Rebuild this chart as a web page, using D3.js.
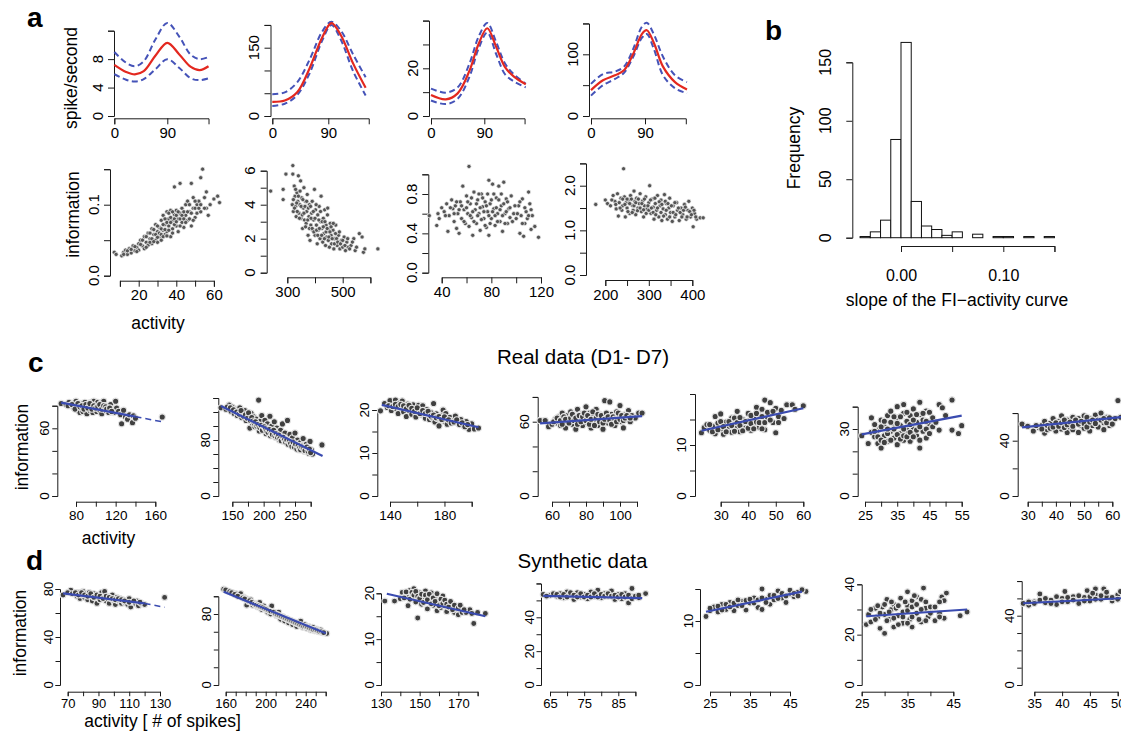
<!DOCTYPE html>
<html><head><meta charset="utf-8">
<script src="https://cdn.jsdelivr.net/npm/d3@7"></script>
<style>body{margin:0;background:#fff}svg{display:block}</style>
</head><body><svg id="fig" width="1121" height="732"></svg>
<script>
// ---------------- DATA ----------------
// Panel a, top row: tuning curves (orientation in degrees -> spike/second)
const tc1Ang = [0,20,35,50,70,90,110,130,145,160];
const tc1Mean = [7.2,6.2,5.85,6.3,8.5,10.3,8.7,6.9,6.45,7.0];
const tc1Up   = [9.0,7.5,7.0,7.7,10.8,13.1,11.2,8.6,8.0,8.3];
const tc1Lo   = [5.9,5.1,4.85,5.2,6.6,8.0,6.8,5.3,5.05,5.3];
const tc2Ang = [0,20,40,60,80,95,110,130,150];
const tc2Mean = [31,34,52,105,172,204,178,115,62];
const tc2Up   = [48,52,74,124,185,207,188,135,85];
const tc2Lo   = [22,27,46,94,165,200,168,98,45];
const tc3Ang = [0,25,45,65,80,95,110,125,140,160];
const tc3Mean = [8.8,7.0,9.5,19,30,36.8,29,20.5,16.5,13.3];
const tc3Up   = [11.5,9.8,12,22,33,39,31,22,17.5,13.5];
const tc3Lo   = [6.5,5,7.2,16.5,28,35,26,17.5,14.5,12];
const tc4Ang = [0,20,40,55,70,85,93,105,120,140,160];
const tc4Mean = [42,58,66,74,100,133,139,118,80,55,43];
const tc4Up   = [52,68,72,80,108,145,151,132,96,66,55];
const tc4Lo   = [33,50,60,70,95,127,133,108,66,45,37];

// Panel a, bottom row: information vs activity
const a5Pts = [[7,0.033],[8,0.03],[11,0.028],[12,0.033],[13,0.036],[14,0.03],[15,0.038],[16,0.032],[17,0.042],[18,0.035],[19,0.04],[20,0.045],[20,0.036],[21,0.05],[22,0.042],[23,0.055],[23,0.038],[24,0.047],[25,0.06],[25,0.043],[26,0.052],[27,0.066],[27,0.045],[28,0.058],[29,0.05],[29,0.072],[30,0.062],[30,0.047],[31,0.068],[31,0.055],[32,0.078],[32,0.05],[33,0.064],[33,0.085],[34,0.058],[34,0.072],[35,0.09],[35,0.062],[36,0.07],[36,0.08],[37,0.055],[37,0.092],[38,0.066],[38,0.078],[39,0.086],[39,0.125],[40,0.07],[40,0.092],[41,0.062],[41,0.08],[42,0.13],[42,0.088],[43,0.075],[43,0.095],[44,0.068],[45,0.085],[45,0.1],[46,0.078],[46,0.105],[47,0.09],[48,0.13],[48,0.07],[49,0.095],[49,0.11],[50,0.082],[51,0.1],[51,0.088],[52,0.105],[53,0.138],[53,0.09],[54,0.15],[55,0.11],[56,0.118],[56,0.095],[57,0.085],[58,0.1],[60,0.108],[62,0.112],[63,0.103],
  [12,0.03],[14,0.035],[16,0.037],[18,0.041],[19,0.034],[21,0.044],[22,0.05],[24,0.04],[24,0.055],[26,0.047],[26,0.06],[27,0.052],[28,0.065],[28,0.048],[29,0.058],[30,0.07],[30,0.054],[31,0.06],[32,0.066],[32,0.058],[33,0.072],[33,0.055],[34,0.08],[34,0.065],[35,0.075],[35,0.056],[36,0.088],[36,0.064],[37,0.075],[37,0.082],[38,0.09],[38,0.06],[39,0.072],[39,0.08],[40,0.085],[40,0.076],[41,0.09],[42,0.07],[42,0.08],[43,0.085],[44,0.09],[44,0.08],[45,0.075],[46,0.09],[47,0.08],[47,0.1],[48,0.088],[49,0.078],[50,0.095],[50,0.105],[52,0.095],[53,0.1],[55,0.095]];
const a6Pts = [[240,4.8],[285,4.3],[285,4.9],[295,5.8],[320,6.3],[320,5.8],[318,4.0],[322,3.6],[325,5.1],[328,4.5],[330,3.9],[332,3.3],[335,4.7],[338,4.2],[340,5.7],[342,3.5],[345,4.0],[348,5.4],[350,3.2],[352,4.4],[355,2.6],[358,3.8],[360,5.0],[362,3.1],[365,4.2],[368,2.9],[370,3.6],[372,4.6],[375,2.2],[378,3.3],[380,4.0],[382,1.9],[385,2.8],[388,3.5],[390,4.2],[392,2.5],[395,3.1],[398,4.9],[400,2.2],[402,3.7],[405,2.8],[408,1.7],[410,3.4],[412,2.5],[415,3.9],[418,2.0],[420,3.0],[422,4.5],[425,2.6],[428,1.8],[430,3.2],[432,2.3],[435,3.7],[438,1.6],[440,2.8],[442,2.1],[445,3.4],[448,1.9],[450,2.6],[452,1.5],[455,2.9],[458,2.2],[460,1.7],[465,2.5],[468,1.4],[470,2.0],[475,2.8],[480,1.6],[485,2.2],[490,1.4],[495,1.9],[500,1.5],[505,2.1],[510,1.3],[515,1.8],[520,1.5],[530,1.6],[540,2.0],[545,1.3],[550,1.5],[560,2.3],[570,2.1],[575,1.2],[580,1.4],[627,1.4],
  [322,4.3],[326,3.8],[330,4.9],[334,4.1],[336,3.6],[340,4.5],[344,3.2],[346,4.8],[350,3.9],[354,3.4],[356,4.3],[360,3.5],[364,3.9],[366,2.7],[370,4.2],[374,3.1],[376,3.8],[380,2.6],[384,3.9],[386,3.2],[390,2.6],[394,3.6],[396,2.4],[400,3.2],[404,4.0],[406,2.5],[410,2.2],[414,3.1],[416,2.6],[420,3.6],[424,2.2],[426,3.0],[430,2.7],[434,2.0],[436,3.0],[440,2.4],[444,2.6],[446,3.8],[450,2.1],[454,2.4],[458,2.7],[462,2.0],[466,2.9],[470,1.7],[474,2.3],[478,2.0],[482,1.8],[488,2.4],[492,1.7],[500,1.9],[508,1.6],[518,2.0],[525,1.4],[535,1.8]];
const a7Pts = [[30,0.58],[36,0.48],[37,0.6],[38,0.55],[40,0.66],[42,0.62],[44,0.7],[45,0.42],[46,0.58],[48,0.74],[49,0.65],[50,0.52],[51,0.68],[52,0.45],[53,0.6],[54,0.4],[55,0.72],[56,0.55],[57,0.88],[58,0.64],[59,0.5],[60,0.78],[61,0.6],[62,1.08],[62,0.47],[63,0.7],[64,0.56],[65,0.38],[66,0.82],[67,0.64],[68,0.5],[69,0.74],[70,0.6],[71,0.43],[72,0.8],[73,0.67],[74,0.55],[75,0.72],[76,0.46],[77,0.62],[78,0.94],[78,0.38],[79,0.7],[80,0.55],[81,0.9],[82,0.65],[83,0.48],[84,0.76],[85,0.6],[86,0.88],[87,0.52],[88,0.68],[89,0.42],[90,0.92],[91,0.6],[92,0.75],[93,0.5],[94,0.65],[95,0.56],[96,0.78],[98,0.6],[100,0.55],[102,0.68],[103,0.4],[104,0.58],[105,0.75],[106,0.37],[107,0.5],[108,0.62],[109,0.55],[110,0.82],[111,0.7],[112,0.44],[113,0.58],[115,0.47],[118,0.36],
  [43,0.58],[47,0.66],[50,0.6],[52,0.72],[54,0.64],[56,0.68],[58,0.52],[60,0.66],[61,0.72],[63,0.58],[64,0.76],[65,0.62],[66,0.52],[68,0.7],[69,0.58],[70,0.8],[71,0.66],[72,0.54],[73,0.76],[74,0.62],[75,0.48],[76,0.68],[77,0.8],[78,0.58],[79,0.5],[80,0.74],[81,0.62],[82,0.8],[83,0.58],[84,0.66],[85,0.52],[86,0.74],[87,0.64],[88,0.8],[89,0.58],[90,0.7],[91,0.5],[92,0.62],[93,0.72],[95,0.66],[97,0.52],[99,0.68],[101,0.6],[103,0.72],[105,0.5],[107,0.66],[110,0.58],[112,0.64]];
const a8Pts = [[178,1.58],[200,1.68],[205,1.6],[212,1.55],[218,1.78],[222,1.65],[225,1.48],[228,1.82],[230,1.32],[232,1.62],[236,1.72],[238,1.45],[240,1.55],[242,2.38],[244,1.75],[246,1.3],[248,1.62],[250,1.5],[254,1.68],[256,1.38],[258,1.78],[262,1.56],[264,1.45],[266,1.88],[268,1.65],[270,1.35],[272,1.72],[275,1.5],[278,1.6],[280,1.82],[283,1.42],[286,1.66],[288,1.3],[290,1.55],[293,1.75],[296,1.48],[300,1.62],[302,2.0],[305,1.38],[308,1.7],[310,1.52],[312,1.25],[315,1.6],[318,1.45],[320,1.78],[323,1.3],[326,1.55],[328,1.68],[330,1.22],[333,1.48],[336,1.8],[338,1.35],[340,1.6],[343,1.25],[346,1.5],[348,1.72],[350,1.4],[354,1.2],[356,1.55],[360,1.3],[364,1.62],[366,1.45],[370,1.22],[374,1.5],[378,1.35],[382,1.58],[386,1.25],[390,1.45],[392,1.65],[396,1.3],[400,1.5],[402,1.08],[405,1.38],[410,1.25],[418,1.28],[425,1.28],
  [215,1.68],[224,1.58],[234,1.5],[240,1.7],[245,1.58],[250,1.7],[252,1.42],[256,1.6],[260,1.7],[262,1.4],[266,1.55],[270,1.62],[274,1.44],[276,1.7],[280,1.5],[284,1.6],[288,1.46],[290,1.7],[294,1.38],[298,1.55],[300,1.45],[304,1.68],[306,1.5],[310,1.4],[314,1.72],[316,1.35],[320,1.5],[324,1.64],[328,1.4],[330,1.58],[334,1.32],[338,1.65],[340,1.45],[344,1.6],[348,1.3],[352,1.55],[356,1.4],[360,1.62],[362,1.35],[368,1.5],[372,1.4],[376,1.3],[380,1.45],[384,1.52],[388,1.3],[394,1.42],[398,1.35],[404,1.45],[408,1.3]];

// Panel b: histogram of slopes
const histEdges = [-0.04,-0.03,-0.02,-0.01,0,0.01,0.02,0.03,0.04,0.05,0.06,0.07,0.08,0.09,0.10,0.11,0.12,0.13,0.14,0.15];
const histCounts = [1,5,15,84,167,31,10,7,2,5,0,3,0,1,1,0,1,0,1];

// Panel c: real data D1-D7
const c1Pts = [[65,82],[70,81],[73,83],[75,80],[77,82],[78,78],[80,84],[81,79],[82,76],[83,81],[84,74],[85,82],[86,78],[87,75],[88,80],[89,83],[90,77],[91,73],[92,81],[93,79],[94,76],[95,83],[96,80],[97,74],[98,84],[99,78],[100,81],[101,75],[102,83],[103,79],[104,76],[105,82],[106,73],[107,78],[108,84],[109,80],[110,76],[112,79],[113,74],[115,81],[117,77],[118,74],[120,84],[121,78],[123,75],[125,72],[126,64],[128,76],[130,70],[132,68],[134,72],[137,65],[138,71],[140,69],[167,70],
  [72,80],[76,81],[79,77],[82,82],[84,79],[86,80],[88,77],[90,81],[92,78],[94,82],[96,77],[98,80],[100,78],[102,79],[104,81],[106,77],[108,80],[110,79],[111,77],[114,78],[116,75]];
const c2Pts = [[132,126],[140,124],[145,130],[148,121],[150,127],[153,118],[155,124],[158,115],[160,121],[162,126],[165,112],[167,119],[170,122],[172,108],[175,116],[177,111],[178,97],[180,118],[182,104],[184,113],[186,99],[188,110],[190,105],[192,137],[193,93],[195,107],[197,115],[199,100],[200,95],[202,108],[204,89],[206,103],[208,96],[210,114],[211,86],[213,100],[215,92],[217,106],[219,84],[221,97],[223,90],[225,80],[227,94],[229,85],[230,103],[232,78],[234,90],[236,82],[238,108],[240,76],[242,88],[244,72],[246,83],[248,75],[250,90],[252,70],[254,80],[256,66],[258,76],[260,72],[263,82],[265,64],[268,74],[270,68],[272,61],[274,78],[276,66],[278,60],[293,73],
  [142,127],[147,126],[152,123],[157,120],[161,117],[164,122],[168,114],[171,116],[174,111],[176,119],[179,108],[181,112],[183,107],[185,104],[187,106],[189,100],[191,102],[194,98],[196,101],[198,94],[201,99],[203,96],[205,93],[207,91],[209,95],[212,90],[214,88],[216,94],[218,86],[220,89],[222,84],[224,87],[226,82],[228,79],[231,84],[233,80],[235,77],[237,80],[239,74],[241,78],[243,75],[245,71],[247,77],[249,70],[251,74],[253,67],[255,72],[257,68],[259,66],[261,70],[264,68],[266,65],[269,70],[271,64],[273,67],[275,62]];
const c3Pts = [[133,19.8],[136,21.5],[138,20.6],[140,22.2],[141,19.9],[143,21.0],[144,22.3],[145,20.2],[146,19.2],[147,21.6],[148,20.5],[149,22.1],[150,19.6],[151,20.9],[152,18.5],[153,21.4],[154,19.9],[155,20.6],[156,19.0],[157,21.2],[158,20.1],[159,18.4],[160,19.6],[161,21.1],[162,20.3],[163,18.9],[164,21.0],[165,19.6],[166,18.1],[167,20.1],[168,19.0],[169,17.8],[170,19.4],[171,18.2],[172,21.5],[173,17.2],[174,19.1],[175,18.0],[176,16.3],[178,18.7],[179,20.0],[180,17.4],[181,19.2],[182,16.7],[184,18.3],[186,17.5],[188,18.6],[190,16.9],[192,17.8],[194,16.4],[196,17.3],[198,15.5],[200,16.8],[202,15.6],[205,15.8],
  [139,21.0],[142,20.8],[144,21.3],[146,20.8],[148,21.3],[150,21.0],[152,20.3],[154,21.1],[156,20.4],[158,19.7],[160,20.5],[162,19.2],[164,19.9],[166,19.2],[168,19.7],[170,18.6],[172,18.8],[174,18.2],[176,18.5],[178,17.8],[180,18.4],[183,17.7],[185,17.0],[187,17.2],[189,17.7],[191,16.6],[193,17.0],[195,16.1],[197,16.6]];
const c4Pts = [[53,61],[56,61],[58,56],[60,58],[62,62],[63,59],[64,64],[65,57],[66,67],[67,60],[68,55],[69,65],[70,62],[71,68],[72,58],[73,64],[74,54],[75,70],[76,61],[77,66],[78,57],[79,63],[80,72],[81,59],[82,67],[83,55],[84,64],[85,61],[86,70],[87,57],[88,66],[89,62],[90,54],[91,77],[92,63],[93,59],[94,76],[95,66],[96,61],[97,57],[98,68],[99,64],[100,73],[101,60],[102,55],[103,66],[104,62],[105,69],[106,60],[107,65],[109,63],[111,67],[113,67],
  [61,60],[63,63],[65,61],[66,58],[67,64],[68,62],[70,59],[71,63],[72,66],[73,61],[74,63],[75,58],[76,65],[77,60],[78,64],[79,67],[80,61],[81,65],[82,58],[83,62],[84,68],[85,57],[86,63],[87,66],[88,60],[89,65],[90,59],[91,62],[92,67],[93,64],[94,61],[95,58],[96,64],[97,62],[98,60],[99,67],[100,62],[101,65],[102,61],[103,63],[104,65],[106,63]];
const c5Pts = [[23,12.4],[24,13.4],[25,14.0],[26,12.9],[27,13.7],[28,15.6],[28,12.2],[29,14.3],[30,13.0],[30,16.1],[31,12.1],[32,14.5],[33,13.2],[34,15.3],[34,12.5],[35,14.0],[36,16.6],[36,13.4],[37,12.6],[38,15.0],[38,14.1],[39,13.3],[40,16.2],[40,14.7],[41,12.9],[42,15.5],[42,14.2],[43,17.4],[44,13.5],[44,15.9],[45,14.6],[45,17.0],[46,18.8],[46,13.0],[47,15.4],[48,16.3],[48,18.3],[49,14.4],[50,17.2],[50,12.4],[51,15.6],[52,16.8],[53,15.2],[54,17.9],[56,17.9],[57,17.0],[60,17.7],
  [26,14.0],[27,12.6],[29,13.0],[30,14.6],[31,13.6],[32,12.6],[33,14.6],[34,13.8],[35,12.7],[35,15.3],[36,14.4],[37,13.8],[37,15.4],[38,12.8],[39,14.6],[40,13.3],[41,14.2],[41,15.8],[42,13.2],[43,14.5],[43,16.2],[44,14.4],[45,13.2],[45,15.6],[46,14.4],[47,16.4],[48,14.9],[49,16.6],[51,14.4]];
const c6Pts = [[24,27],[26,23.5],[27,28.5],[27,35],[28,26.5],[28,32],[29,23.5],[29,29.5],[30,21.5],[30,34],[31,27],[31,31],[32,24.5],[32,36],[33,29],[33,38],[34,26],[34,32.5],[35,23],[35,35],[35,40],[36,28],[36,31.5],[37,25],[37,37],[37,41],[38,29.5],[38,33.5],[39,24.5],[39,36],[40,30],[40,39],[41,27],[41,33],[42,21.5],[42,36.5],[42,42],[43,29],[43,34],[44,26],[44,38],[45,31.5],[45,37.5],[46,35],[48,29.5],[48,41],[49,39.5],[50,36],[52,29.5],[52,43],[54,28],[55,31.5],
  [28,29],[29,26.5],[30,31],[30,25],[31,33.5],[31,24],[32,28],[32,30],[33,25],[33,33],[34,35.5],[34,30],[35,27.5],[35,32.5],[36,25.5],[36,35.5],[37,30],[37,27],[38,37.5],[38,26.5],[39,32],[39,28.5],[40,34],[40,26.5],[41,29.5],[41,36.5],[42,31],[42,25],[43,37],[44,30],[44,33.5],[45,28],[46,31],[47,33]];
const c7Pts = [[28,52],[30,50.5],[32,47],[34,49.5],[35,51],[36,45.5],[36,54],[37,48],[38,52.5],[39,56],[40,47],[40,51],[41,54],[42,48.5],[42,58],[43,52],[44,46],[44,55],[45,50],[46,57],[46,48],[47,53],[48,46],[48,56],[49,51],[50,58],[50,49],[51,54],[52,47],[52,56],[53,51],[54,58.5],[55,50],[55,55],[56,60],[57,53],[57,48],[58,57],[59,51],[60,55],[61,56],[62,69],[63,57],
  [33,51],[35,48.5],[37,51],[38,49],[39,50],[40,53],[41,50.5],[42,53],[43,49.5],[43,55],[44,51.5],[45,53.5],[46,50.5],[47,55],[48,52],[49,54],[50,52.5],[51,50],[51,57],[52,53.5],[53,55],[54,52.5],[56,55],[57,56],[58,53],[59,56.5],[60,52]];
// fitted lines (solid part, dashed extrapolation)
const c1Fit = [[65,82.7],[140,70.3]], c1Ext = [[140,70.3],[167,65.8]];
const c2Fit = [[132,128.6],[294,57]];
const c3Fit = [[134,21.2],[205,16.0]];
const c4Fit = [[53,58.6],[113,64.5]];
const c5Fit = [[23,12.8],[60,17.2]];
const c6Fit = [[24,27.6],[55,36]];
const c7Fit = [[28,49.6],[64,57.2]];

// Panel d: synthetic data
const d1Pts = [[67,75],[72,79],[74,76],[76,74],[77,77],[78,72],[79,75],[80,78],[81,73],[82,76],[83,71],[84,77],[85,74],[86,70],[87,76],[88,73],[89,68],[90,75],[91,71],[92,77],[93,73],[94,78],[95,70],[96,74],[97,68],[98,72],[99,75],[100,70],[101,67],[102,73],[103,70],[104,72],[105,68],[106,71],[107,69],[108,70],[109,67],[110,72],[111,65],[112,69],[114,68],[115,70],[116,66],[118,68],[120,67],[133,73],
  [70,77],[73,76],[75,77],[77,75],[79,77],[81,75],[83,74],[85,76],[87,73],[89,75],[91,74],[93,72],[95,74],[97,73],[99,72],[101,71],[103,72],[105,71],[107,70],[110,69],[113,70],[117,69]];
const d2Pts = [[158,108],[162,106],[167,104],[170,103],[173,101],[175,103],[178,99],[181,90],[181,97],[183,94],[185,96],[187,90],[190,92],[192,88],[194,93],[196,85],[198,89],[200,86],[202,82],[204,84],[205,80],[206,89],[209,81],[211,78],[213,82],[215,74],[217,77],[219,72],[221,75],[223,70],[225,73],[227,68],[229,71],[231,66],[233,69],[235,72],[237,65],[239,68],[241,64],[243,66],[245,62],[247,65],[249,61],[251,63],[253,60],[255,62],[257,59],[261,58],
  [160,107],[164,105],[166,104],[169,102],[172,100],[177,98],[179,97],[184,95],[186,93],[189,91],[191,90],[193,89],[195,88],[197,87],[199,86],[201,85],[203,84],[205,83],[208,82],[210,80],[212,79],[214,78],[216,77],[218,76],[220,75],[222,74],[224,73],[226,72],[228,71],[230,70],[232,69],[234,68],[236,67],[238,66],[240,66],[242,65],[244,64],[246,63],[248,62],[250,62],[252,61],[254,60],[256,60],[258,59]];
const d3Pts = [[132,18.3],[137,18.3],[140,18.8],[141,20.2],[143,19.5],[144,17.3],[145,20.6],[146,19.0],[147,21.0],[148,18.1],[149,14.6],[150,20.1],[151,17.6],[152,19.2],[153,20.5],[154,16.6],[155,18.6],[156,20.1],[157,17.4],[158,19.3],[159,16.2],[160,18.1],[161,16.9],[162,19.4],[163,17.3],[164,16.0],[165,18.0],[166,16.8],[167,17.7],[168,15.8],[169,16.6],[170,15.3],[172,15.8],[174,15.8],[176,16.4],[177,15.6],[178,13.4],[180,15.8],[184,15.6],
  [142,19.0],[143,20.3],[145,18.7],[146,20.2],[147,19.6],[148,20.4],[149,19.3],[150,18.9],[151,19.8],[152,18.0],[153,19.6],[154,18.6],[155,19.8],[156,17.7],[157,19.0],[158,18.2],[159,19.9],[160,17.3],[161,18.7],[162,17.8],[163,18.5],[164,17.6],[165,17.0],[166,18.2],[167,16.4],[168,17.4],[170,16.8],[171,17.4],[173,16.4]];
const d4Pts = [[63,53.5],[65,53],[67,52.5],[68,54],[69,51.5],[70,55],[71,53],[72,50.5],[73,54.5],[74,52],[75,53.5],[76,51],[77,55],[78,52.5],[79,56],[80,51.5],[81,54],[82,52.5],[83,55.5],[84,50.5],[85,53.5],[86,51],[87,54],[88,48.5],[89,52.5],[89,57],[91,51.5],[93,54],
  [64,52.5],[66,54],[67,53.5],[68,52],[69,53.5],[70,52],[71,54.5],[72,53],[73,52],[74,54],[75,52],[76,53],[77,52],[78,54],[79,52],[80,53.5],[81,52.5],[82,54],[83,52.5],[84,53],[85,52],[86,53.5],[87,52],[88,53],[89,51],[90,52.5],[91,53]];
const d5Pts = [[24,10.7],[25,11.6],[26,12.2],[27,11.4],[28,12.6],[29,11.8],[30,12.9],[31,11.6],[32,12.4],[33,13.1],[34,11.7],[35,12.8],[36,13.6],[37,12.1],[38,11.8],[38,15.0],[39,13.4],[40,12.6],[41,13.3],[42,14.7],[43,13.6],[44,12.9],[45,14.2],[46,13.8],[47,14.5],[49,14.6],
  [25,12.0],[27,12.3],[28,11.7],[29,12.6],[30,12.2],[31,12.8],[32,13.3],[33,12.4],[34,13.2],[35,13.4],[36,12.8],[37,13.3],[38,13.6],[39,12.9],[40,14.0],[41,14.0],[42,13.5],[43,14.3],[44,13.9],[45,14.8],[46,14.3],[47,13.9],[48,14.9]];
const d6Pts = [[26,24],[26.5,28],[27,25],[28,30.5],[28.5,27],[29,22.5],[29.5,31],[30,20.5],[30,28],[30.5,34],[31,26],[31.5,30],[32,23],[32,32],[33,27.5],[33.5,34.5],[34,24.5],[34,29],[35,31.5],[35,37],[35.5,26],[36,23],[36,33.5],[37,28.5],[37,35],[38,25],[38.5,38.5],[39,30.5],[39.5,27],[40,31],[41,25.5],[42,28.5],[42.5,35],[43,33.5],[43.5,36.5],[43,26.5],[46.5,27.5],[48,29],
  [27,30],[28,26],[28.5,31.5],[29,28.5],[30,32],[30.5,25.5],[31,29],[31.5,33],[32,26.5],[32.5,30.5],[33,24],[33,31.5],[34,27],[34.5,33],[35,24.5],[35,29.5],[36,31],[36,27],[36.5,35.5],[37,32],[37.5,26],[38,30],[38,34],[39,25.5],[39,33],[40,28.5],[41,31],[42,27],[42,33]];
const d7Pts = [[33,47],[34,46],[35,48],[36,52.5],[37,47.5],[38,49],[39,46.5],[40,50],[40.5,54],[41,48],[42,51],[43,47],[44,50.5],[44.5,54.5],[45,48.5],[46,52],[46,55.5],[47,49.5],[47.5,55.5],[48,51],[49,48.5],[50,52],[51,50.5],
  [34,48],[35,47],[36,49],[37,50],[38,47],[39,51],[40,48],[41,50.5],[42,49],[43,51.5],[44,48.5],[45,51],[45.5,53],[46,49.5],[47,51.5],[48,53.5],[49,50.5],[50,49.5],[50.5,54]];
const d1Fit = [[67,76.4],[120,68]], d1Ext = [[120,68],[133,64.7]];
const d2Fit = [[158,105],[260,58.2]];
const d3Fit = [[133,19.9],[184,15.0]];
const d4Fit = [[63,52.7],[92,51.3]];
const d5Fit = [[24,11.45],[48,14.6]];
const d6Fit = [[26,27.3],[48,30]];
const d7Fit = [[33,47.2],[52,50.3]];

// Tick values / labelled ticks per panel
const tA1 = {x:[0,90], xEnd:160, xLab:[0,90], y:[0,4,8,12], yLab:[0,4,8]};
const tA2 = {x:[0,90], xEnd:155, xLab:[0,90], y:[0,50,100,150,200], yLab:[0,150]};
const tA3 = {x:[0,90], xEnd:158, xLab:[0,90], y:[0,10,20,30,40], yLab:[0,20]};
const tA4 = {x:[0,90], xEnd:158, xLab:[0,90], y:[0,50,100,150], yLab:[0,100]};
const tA5 = {x:[10,20,30,40,50,60], xLab:[20,40,60], y:[0,0.05,0.1,0.15], yLab:[0,0.1], yFmt:'.1f'};
const tA6 = {x:[300,400,500,600], xLab:[300,500], y:[0,1,2,3,4,5,6], yLab:[0,2,4,6]};
const tA7 = {x:[40,60,80,100,120], xLab:[40,80,120], y:[0,0.2,0.4,0.6,0.8,1.0], yLab:[0,0.4,0.8], yFmt:'.1f'};
const tA8 = {x:[200,250,300,350,400], xLab:[200,300,400], y:[0,0.5,1,1.5,2,2.5], yLab:[0,1,2], yFmt:'.1f'};
const tB  = {x:[0,0.05,0.1,0.15], xLab:[0,0.1], xFmt:'.2f', y:[0,50,100,150], yLab:[0,50,100,150]};
const tC1 = {x:[80,100,120,140,160], xLab:[80,120,160], y:[0,20,40,60,80], yLab:[0,60]};
const tC2 = {x:[150,175,200,225,250,275], xLab:[150,200,250], y:[0,20,40,60,80,100,120,140], yLab:[0,80]};
const tC3 = {x:[140,160,180,200], xLab:[140,180], y:[0,5,10,15,20], yLab:[0,10,20]};
const tC4 = {x:[60,70,80,90,100,110], xLab:[60,80,100], y:[0,20,40,60,80], yLab:[0,60]};
const tC5 = {x:[30,40,50,60], xLab:[30,40,50,60], y:[0,5,10,15,20], yLab:[0,10]};
const tC6 = {x:[25,30,35,40,45,50,55], xLab:[25,35,45,55], y:[0,10,20,30,40], yLab:[0,30]};
const tC7 = {x:[30,35,40,45,50,55,60], xLab:[30,40,50,60], y:[0,20,40,60], yLab:[0,40]};
const tD1 = {x:[70,80,90,100,110,120,130], xLab:[70,90,110,130], y:[0,20,40,60,80], yLab:[0,40,80]};
const tD2 = {x:[160,170,180,190,200,210,220,230,240,250,260], xLab:[160,200,240], y:[0,20,40,60,80,100], yLab:[0,80]};
const tD3 = {x:[130,140,150,160,170,180], xLab:[130,150,170], y:[0,5,10,15,20], yLab:[0,10,20]};
const tD4 = {x:[65,70,75,80,85,90], xLab:[65,75,85], y:[0,10,20,30,40,50,60], yLab:[0,20,40]};
const tD5 = {x:[25,30,35,40,45], xLab:[25,35,45], y:[0,5,10,15], yLab:[0,10]};
const tD6 = {x:[25,30,35,40,45], xLab:[25,35,45], y:[0,10,20,30,40], yLab:[0,20,40]};
const tD7 = {x:[35,40,45,50], xLab:[35,40,45,50], y:[0,10,20,30,40,50,60], yLab:[0,40]};

// ---------------- DRAWING ----------------
const FONT = '"Liberation Sans", Arial, Helvetica, sans-serif';
const svg = d3.select('#fig');
const RED = '#e3281f', BLUE = '#4553b8', FIT = '#3a4bb0';
const has = (arr, v) => arr.some(a => Math.abs(a - v) < 1e-9);

function txt(x, y, s, fs, opt = {}) {
  return svg.append('text').attr('x', x).attr('y', y).attr('font-family', FONT)
    .attr('font-size', fs).attr('font-weight', opt.bold ? 'bold' : 'normal')
    .attr('text-anchor', opt.anchor || 'middle').attr('fill', '#000').text(s);
}
function vtext(g, cx, cy, s, fs) {
  g.append('text').attr('transform', `translate(${cx},${cy}) rotate(-90)`)
    .attr('text-anchor', 'middle').attr('dy', '0.35em').attr('font-family', FONT)
    .attr('font-size', fs).attr('fill', '#000').text(s);
}
function styleAxis(sel, fs) {
  sel.attr('font-family', FONT).attr('font-size', fs).attr('color', '#1a1a1a');
  sel.selectAll('path,line').attr('stroke', '#1a1a1a').attr('stroke-width', 1);
  sel.selectAll('text').attr('fill', '#000');
}
function panel(cfg) {
  const sx = d3.scaleLinear().domain([cfg.sx[0], cfg.sx[2]]).range([cfg.sx[1], cfg.sx[3]]);
  const sy = d3.scaleLinear().domain([cfg.sy[0], cfg.sy[2]]).range([cfg.sy[1], cfg.sy[3]]);
  const t = cfg.t, st = cfg.st;
  const g = svg.append('g');
  const xd = [t.x[0], t.xEnd !== undefined ? t.xEnd : t.x[t.x.length - 1]];
  const xs = d3.scaleLinear().domain(xd).range(xd.map(sx));
  const xf = t.xFmt ? d3.format(t.xFmt) : (v => String(v));
  g.append('g').attr('transform', `translate(0,${cfg.xAxisY})`)
    .call(d3.axisBottom(xs).tickValues(t.x).tickSizeOuter(0).tickSize(st.tick)
      .tickPadding(st.xPad).tickFormat(v => has(t.xLab, v) ? xf(v) : ''))
    .call(s => styleAxis(s, st.fs));
  const yd = [t.y[0], t.y[t.y.length - 1]];
  const ys = d3.scaleLinear().domain(yd).range(yd.map(sy));
  g.append('g').attr('transform', `translate(${cfg.yAxisX},0)`)
    .call(d3.axisLeft(ys).tickValues(t.y).tickSizeOuter(0).tickSize(st.tick).tickFormat(() => ''))
    .call(s => styleAxis(s, st.fs));
  const yf = t.yFmt ? d3.format(t.yFmt) : (v => String(v));
  t.yLab.forEach(v => vtext(g, cfg.yAxisX - st.yOff, sy(v), yf(v), st.fs));
  return { g, sx, sy };
}

const stA = { tick: 6, fs: 15, xPad: 3.1, yOff: 16.5 };
const stB = { tick: 6, fs: 16, xPad: 18, yOff: 27 };
const stC = { tick: 5, fs: 13.5, xPad: 3.4, yOff: 13.5 };
const stD = { tick: 4.5, fs: 13, xPad: 2.6, yOff: 12 };

// ---- Panel a, top row ----
function tuning(cfg, ang, mean, up, lo) {
  const p = panel(cfg);
  const line = d3.line().x(d => p.sx(d[0])).y(d => p.sy(d[1])).curve(d3.curveCatmullRom.alpha(0.5));
  [up, lo].forEach(arr => p.g.append('path').attr('d', line(ang.map((a, i) => [a, arr[i]])))
    .attr('fill', 'none').attr('stroke', BLUE).attr('stroke-width', 2).attr('stroke-dasharray', '6,3.5'));
  p.g.append('path').attr('d', line(ang.map((a, i) => [a, mean[i]])))
    .attr('fill', 'none').attr('stroke', RED).attr('stroke-width', 2.2);
}
tuning({ sx: [0, 114.3, 90, 167.3], sy: [0, 116, 12, 30.7], xAxisY: 118.3, yAxisX: 114, t: tA1, st: stA }, tc1Ang, tc1Mean, tc1Up, tc1Lo);
tuning({ sx: [0, 272.3, 90, 328.3], sy: [0, 116, 150, 47.7], xAxisY: 118.3, yAxisX: 270.5, t: tA2, st: stA }, tc2Ang, tc2Mean, tc2Up, tc2Lo);
tuning({ sx: [0, 431, 90, 484.3], sy: [0, 116, 20, 68.3], xAxisY: 118.3, yAxisX: 429, t: tA3, st: stA }, tc3Ang, tc3Mean, tc3Up, tc3Lo);
tuning({ sx: [0, 591, 90, 645], sy: [0, 116, 100, 54.3], xAxisY: 118.3, yAxisX: 589, t: tA4, st: stA }, tc4Ang, tc4Mean, tc4Up, tc4Lo);

// ---- scatter helper ----
function scatter(cfg, pts, r, fit, ext) {
  const p = panel(cfg);
  const small = r < 2.6;
  p.g.append('g').selectAll('circle').data(pts).join('circle')
    .attr('cx', d => p.sx(d[0])).attr('cy', d => p.sy(d[1])).attr('r', r)
    .attr('fill', small ? '#555' : '#404040').attr('stroke', small ? '#eeeeee' : '#e4e4e4')
    .attr('stroke-width', small ? 0.7 : 1.1);
  const line = d3.line().x(d => p.sx(d[0])).y(d => p.sy(d[1]));
  if (fit) p.g.append('path').attr('d', line(fit)).attr('fill', 'none').attr('stroke', FIT).attr('stroke-width', 2.2);
  if (ext) p.g.append('path').attr('d', line(ext)).attr('fill', 'none').attr('stroke', FIT)
    .attr('stroke-width', 1.5).attr('stroke-dasharray', '6,4');
}

// ---- Panel a, bottom row ----
scatter({ sx: [20, 138.7, 40, 176.3], sy: [0, 275.7, 0.1, 204.7], xAxisY: 280.7, yAxisX: 110, t: tA5, st: stA }, a5Pts, 2.1);
scatter({ sx: [300, 287.3, 500, 342.7], sy: [0, 272.7, 6, 170.7], xAxisY: 277.3, yAxisX: 266.7, t: tA6, st: stA }, a6Pts, 2.1);
scatter({ sx: [40, 441.7, 120, 541], sy: [0, 272.7, 0.8, 194], xAxisY: 277.3, yAxisX: 428.3, t: tA7, st: stA }, a7Pts, 2.1);
scatter({ sx: [200, 605.3, 400, 692.3], sy: [0, 275, 2, 185.7], xAxisY: 280, yAxisX: 586, t: tA8, st: stA }, a8Pts, 2.1);

// ---- Panel b ----
(function () {
  const p = panel({ sx: [0, 901, 0.1, 1003.3], sy: [0, 237.7, 150, 62.3], xAxisY: 246, yAxisX: 852.3, t: tB, st: stB });
  p.g.append('g').selectAll('rect').data(histCounts).join('rect')
    .attr('x', (d, i) => p.sx(histEdges[i])).attr('width', (d, i) => p.sx(histEdges[i + 1]) - p.sx(histEdges[i]))
    .attr('y', d => p.sy(d)).attr('height', d => p.sy(0) - p.sy(d))
    .attr('fill', '#fff').attr('stroke', '#111').attr('stroke-width', 1);
})();

// ---- Panel c ----
const yC = 501.7;
scatter({ sx: [80, 76, 160, 155.3], sy: [0, 496, 60, 428.3], xAxisY: yC, yAxisX: 57.3, t: tC1, st: stC }, c1Pts, 3.1, c1Fit, c1Ext);
scatter({ sx: [150, 232.3, 250, 295], sy: [0, 496, 80, 440], xAxisY: yC, yAxisX: 218.3, t: tC2, st: stC }, c2Pts, 3.1, c2Fit);
scatter({ sx: [140, 390, 200, 471.7], sy: [0, 496, 20, 410], xAxisY: yC, yAxisX: 377.3, t: tC3, st: stC }, c3Pts, 3.1, c3Fit);
scatter({ sx: [60, 552, 100, 620], sy: [0, 496, 60, 421.7], xAxisY: yC, yAxisX: 537.7, t: tC4, st: stC }, c4Pts, 3.1, c4Fit);
scatter({ sx: [30, 720.7, 60, 803.3], sy: [0, 496, 10, 445], xAxisY: yC, yAxisX: 695, t: tC5, st: stC }, c5Pts, 3.1, c5Fit);
scatter({ sx: [25, 865, 55, 961.7], sy: [0, 496, 30, 429], xAxisY: yC, yAxisX: 857.7, t: tC6, st: stC }, c6Pts, 3.1, c6Fit);
scatter({ sx: [30, 1027.7, 60, 1112.3], sy: [0, 496, 40, 440.7], xAxisY: yC, yAxisX: 1017.7, t: tC7, st: stC }, c7Pts, 3.1, c7Fit);

// ---- Panel d ----
const yD = 691.7;
scatter({ sx: [70, 67.7, 130, 160], sy: [0, 685, 80, 589], xAxisY: yD, yAxisX: 60, t: tD1, st: stD }, d1Pts, 3.0, d1Fit, d1Ext);
scatter({ sx: [160, 225.7, 240, 305.7], sy: [0, 685, 80, 614], xAxisY: yD, yAxisX: 218.3, t: tD2, st: stD }, d2Pts, 3.0, d2Fit);
scatter({ sx: [130, 381, 170, 458.3], sy: [0, 685, 20, 593.3], xAxisY: yD, yAxisX: 381, t: tD3, st: stD }, d3Pts, 3.0, d3Fit);
scatter({ sx: [65, 550, 85, 618.3], sy: [0, 685, 40, 617.3], xAxisY: yD, yAxisX: 541, t: tD4, st: stD }, d4Pts, 3.0, d4Fit);
scatter({ sx: [25, 710, 45, 790], sy: [0, 685, 10, 621], xAxisY: yD, yAxisX: 700, t: tD5, st: stD }, d5Pts, 3.0, d5Fit);
scatter({ sx: [25, 861.7, 45, 953.3], sy: [0, 685, 40, 584.3], xAxisY: yD, yAxisX: 861.7, t: tD6, st: stD }, d6Pts, 3.0, d6Fit);
scatter({ sx: [35, 1034.3, 50, 1117.7], sy: [0, 685, 40, 615.7], xAxisY: yD, yAxisX: 1021.7, t: tD7, st: stD }, d7Pts, 3.0, d7Fit);

// ---- Labels ----
txt(27, 27, 'a', 28, { bold: true, anchor: 'start' });
txt(765, 40, 'b', 28, { bold: true, anchor: 'start' });
txt(28, 371.5, 'c', 28, { bold: true, anchor: 'start' });
txt(26, 570, 'd', 28, { bold: true, anchor: 'start' });
const root = svg.append('g');
vtext(root, 70.5, 78, 'spike/second', 17.5);
vtext(root, 72.5, 214.5, 'information', 17.5);
txt(158, 329, 'activity', 17.5);
vtext(root, 794, 148, 'Frequency', 17.5);
txt(957, 306, 'slope of the FI\u2212activity curve', 17.5);
txt(583, 364, 'Real data (D1- D7)', 20.5);
vtext(root, 22, 447, 'information', 17.5);
txt(108.5, 544, 'activity', 17.5);
txt(582.5, 567.5, 'Synthetic data', 20.5);
vtext(root, 20, 633, 'information', 17.5);
txt(162.5, 727, 'activity [ # of spikes]', 17.5);
</script></body></html>
